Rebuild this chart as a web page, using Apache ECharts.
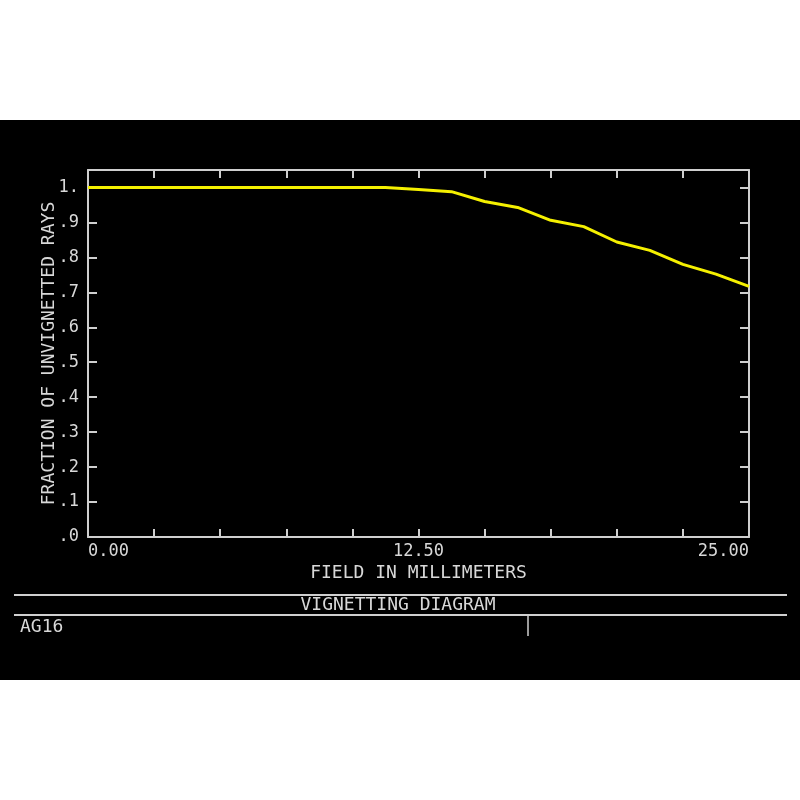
<!DOCTYPE html>
<html>
<head>
<meta charset="utf-8">
<script src="https://cdn.jsdelivr.net/npm/echarts@6/dist/echarts.min.js"></script>
<style>html,body{margin:0;padding:0;background:#fff;}#c{width:800px;height:800px;}</style>
</head>
<body>
<div id="c"></div>
<script>
// Field in millimeters (sampled every 1.25 mm)
const fieldMM = [0, 1.25, 2.5, 3.75, 5, 6.25, 7.5, 8.75, 10, 11.25, 12.5, 13.75, 15, 16.25, 17.5, 18.75, 20, 21.25, 22.5, 23.75, 25];
// Fraction of unvignetted rays
const fraction = [1, 1, 1, 1, 1, 1, 1, 1, 1, 1, 0.994, 0.988, 0.960, 0.943, 0.906, 0.888, 0.844, 0.820, 0.780, 0.752, 0.717];
const xLabelValues = [0, 12.5, 25];
const xAxisTitle = 'FIELD IN MILLIMETERS';
const yAxisTitle = 'FRACTION OF UNVIGNETTED RAYS';
const diagramTitle = 'VIGNETTING DIAGRAM';
const footerLabel = 'AG16';

const FONT = 'DejaVu Sans Mono';
const FG = '#d8d8d8';
const LINE = '#cfcfcf';

const chart = echarts.init(document.getElementById('c'));
const data = fieldMM.map((x, i) => [x, fraction[i]]);

function yFmt(v) {
  if (v > 1.01) return '';
  if (Math.abs(v - 1) < 1e-6) return '1.';
  return '.' + Math.round(v * 10);
}
function xFmt(v) {
  for (const t of xLabelValues) if (Math.abs(v - t) < 1e-6) return t.toFixed(2);
  return '';
}

const lineStyle = { color: LINE, width: 2 };

chart.setOption({
  backgroundColor: '#ffffff',
  animation: false,
  grid: { left: 88, right: 51, top: 170, bottom: 263, containLabel: false },
  xAxis: [
    {
      type: 'value', min: 0, max: 25, interval: 2.5, position: 'bottom',
      axisLine: { show: true, onZero: false, lineStyle: lineStyle },
      axisTick: { show: true, inside: true, length: 8, lineStyle: lineStyle },
      splitLine: { show: false },
      axisLabel: {
        color: FG, fontFamily: FONT, fontSize: 17, margin: 6,
        formatter: xFmt, showMinLabel: true, showMaxLabel: true,
        alignMinLabel: 'left', alignMaxLabel: 'right'
      },
      name: xAxisTitle, nameLocation: 'middle', nameGap: 27, nameMoveOverlap: false,
      nameTextStyle: { color: FG, fontFamily: FONT, fontSize: 18 }
    },
    {
      type: 'value', min: 0, max: 25, interval: 2.5, position: 'top',
      axisLine: { show: true, onZero: false, lineStyle: lineStyle },
      axisTick: { show: true, inside: true, length: 8, lineStyle: lineStyle },
      splitLine: { show: false },
      axisLabel: { show: false }
    }
  ],
  yAxis: [
    {
      type: 'value', min: 0, max: 1.05, interval: 0.1, position: 'left',
      axisLine: { show: true, onZero: false, lineStyle: lineStyle },
      axisTick: { show: true, inside: true, length: 9, lineStyle: lineStyle },
      splitLine: { show: false },
      axisLabel: {
        color: FG, fontFamily: FONT, fontSize: 17, margin: 9,
        formatter: yFmt, showMaxLabel: false, padding: [0, 0, 8, 0]
      },
      name: yAxisTitle, nameLocation: 'middle', nameGap: 30, nameRotate: 90, nameMoveOverlap: false,
      nameTextStyle: { color: FG, fontFamily: FONT, fontSize: 18 }
    },
    {
      type: 'value', min: 0, max: 1.05, interval: 0.1, position: 'right',
      axisLine: { show: true, onZero: false, lineStyle: lineStyle },
      axisTick: { show: true, inside: true, length: 9, lineStyle: lineStyle },
      splitLine: { show: false },
      axisLabel: { show: false }
    }
  ],
  series: [{
    type: 'line', xAxisIndex: 0, yAxisIndex: 0, data: data,
    showSymbol: false, symbol: 'none', clip: true,
    lineStyle: { color: '#f5f000', width: 3 }, z: 5
  }],
  graphic: [
    { type: 'rect', z: -100, silent: true, shape: { x: 0, y: 120, width: 800, height: 560 }, style: { fill: '#000000' } },
    { type: 'line', z: 10, shape: { x1: 14, y1: 595, x2: 787, y2: 595 }, style: { stroke: LINE, lineWidth: 2 } },
    { type: 'line', z: 10, shape: { x1: 14, y1: 615, x2: 787, y2: 615 }, style: { stroke: LINE, lineWidth: 2 } },
    { type: 'line', z: 10, shape: { x1: 528, y1: 615, x2: 528, y2: 636 }, style: { stroke: LINE, lineWidth: 1.5 } },
    { type: 'text', z: 10, x: 398, y: 605, style: { text: diagramTitle, fill: FG, font: '18px "DejaVu Sans Mono"', align: 'center', verticalAlign: 'middle' } },
    { type: 'text', z: 10, x: 20, y: 627, style: { text: footerLabel, fill: FG, font: '18px "DejaVu Sans Mono"', align: 'left', verticalAlign: 'middle' } }
  ]
});
</script>
</body>
</html>
